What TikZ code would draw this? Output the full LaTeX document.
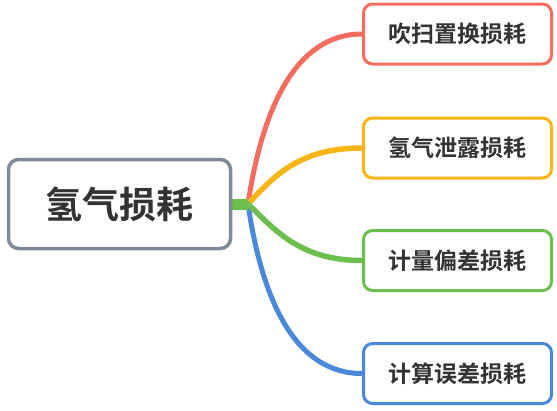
\documentclass[tikz,border=0pt]{standalone}
\usepackage{fontspec}
\usetikzlibrary{backgrounds}
\newfontfamily\cjk{Noto Sans CJK SC}[BoldFont={* Bold}]
\definecolor{cred}{HTML}{F46D5E}
\definecolor{cyel}{HTML}{F8B514}
\definecolor{cgrn}{HTML}{6CBF4C}
\definecolor{cblu}{HTML}{4A88DA}
\definecolor{cgry}{HTML}{7E8A9A}
\definecolor{ctxt}{HTML}{333333}
\begin{document}
\begin{tikzpicture}[x=1pt,y=-1pt,
  leaf/.style={draw=#1,line width=3pt,rounded corners=9pt,fill=white,minimum width=188pt,minimum height=60pt,inner sep=0pt,font=\cjk\bfseries\fontsize{23}{26}\selectfont,text=ctxt},
  rootbox/.style={draw=cgry,line width=3.5pt,rounded corners=10pt,fill=white,minimum width=222pt,minimum height=89pt,inner sep=0pt,font=\cjk\bfseries\fontsize{37}{42}\selectfont,text=ctxt},
  link/.style={draw=#1,line width=5pt,line cap=round}]
\useasboundingbox (0,0) rectangle (557,410);
\node[rootbox] (root) at (119.5,204) {氢气损耗};
\node[leaf=cred] (a) at (457.5,34) {吹扫置换损耗};
\node[leaf=cyel] (b) at (457.5,148) {氢气泄露损耗};
\node[leaf=cgrn] (c) at (457.5,260.5) {计量偏差损耗};
\node[leaf=cblu] (d) at (457.5,373.5) {计算误差损耗};
\coordinate (j) at (248,204);
\begin{scope}[on background layer]
\draw[link=cred] (j) .. controls (262,110) and (295,34) .. (a.west);
\draw[link=cblu] (j) .. controls (262,300) and (295,373.5) .. (d.west);
\draw[link=cyel,line width=5.5pt] (j) .. controls (275,175) and (300,148) .. (b.west);
\draw[link=cgrn,line width=5.5pt] (j) .. controls (275,230) and (300,260.5) .. (c.west);
\draw[cgrn,line width=11pt] (root.east) -- (j);
\end{scope}
\end{tikzpicture}
\end{document}
